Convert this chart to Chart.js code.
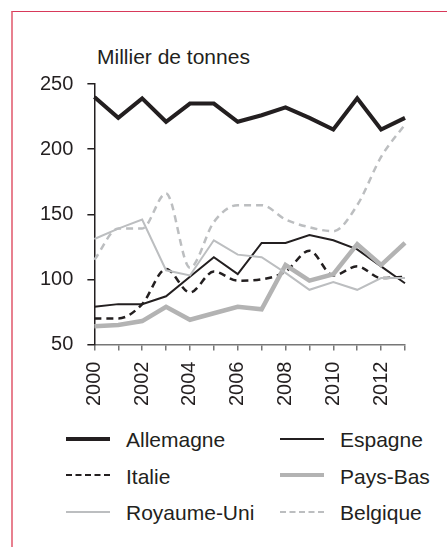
<!DOCTYPE html>
<html>
<head>
<meta charset="utf-8">
<script src="https://cdn.jsdelivr.net/npm/chart.js@4.4.1/dist/chart.umd.min.js"></script>
<style>
  html, body { margin: 0; padding: 0; background: #fff; }
  body { width: 447px; height: 547px; position: relative; overflow: hidden;
         font-family: "Liberation Sans", Arial, Helvetica, sans-serif; color: #231f20; }
  .frame { position: absolute; left: 11px; top: 11px; width: 460px; height: 560px;
           border-top: 1.5px solid #d8395a; border-left: 2px solid #e8808f; }
  .unit { position: absolute; left: 97px; top: 45px; font-size: 21px; }
  #wrap { position: absolute; left: 0; top: 0; width: 447px; height: 420px; }
  .legend { position: absolute; left: 0; top: 0; font-size: 21px; }
  .item { position: absolute; height: 26px; line-height: 26px; }
  .sample { position: absolute; top: 12px; width: 44px; height: 0; }
  .item span { position: absolute; white-space: nowrap; }
</style>
</head>
<body>
<div class="frame"></div>
<div class="unit">Millier de tonnes</div>
<div id="wrap"><canvas id="chart"></canvas></div>
<div class="legend" id="legend"></div>
<script>
// data
const years = ['2000','2001','2002','2003','2004','2005','2006','2007','2008','2009','2010','2011','2012','2013'];
const yearTicks = ['2000','','2002','','2004','','2006','','2008','','2010','','2012',''];
const yTicks = [50, 100, 150, 200, 250];

const allemagne  = [240, 224, 239, 221, 235, 235, 221, 226, 232, 224, 215, 239, 215, 224];
const espagne    = [79, 81, 81, 87, 102, 117, 104, 128, 128, 134, 130, 123, 110, 97];
const italie     = [70, 70, 81, 108, 90, 106, 99, 100, 106, 122, 103, 110, 101, 102];
const paysBas    = [64, 65, 68, 79, 69, 74, 79, 77, 111, 99, 104, 127, 111, 128];
const royaumeUni = [131, 139, 146, 107, 103, 130, 119, 117, 105, 92, 98, 92, 101, 101];
const belgique   = [115, 139, 139, 166, 109, 144, 157, 157, 146, 140, 137, 157, 194, 219];

const BLACK = '#231f20';
const GREY = '#b3b3b3';
const LIGHT = '#bcbec0';

const series = [
  { label: 'Allemagne',   data: allemagne,  color: BLACK, width: 4,   dash: [] },
  { label: 'Espagne',     data: espagne,    color: BLACK, width: 2,   dash: [] },
  { label: 'Italie',      data: italie,     color: BLACK, width: 2.5, dash: [7, 5], smooth: true },
  { label: 'Pays-Bas',    data: paysBas,    color: GREY,  width: 4.5, dash: [] },
  { label: 'Royaume-Uni', data: royaumeUni, color: LIGHT, width: 2,   dash: [] },
  { label: 'Belgique',    data: belgique,   color: LIGHT, width: 2.5, dash: [7, 5], smooth: true }
];

const font = { family: '"Liberation Sans", Arial, sans-serif', size: 20 };

new Chart(document.getElementById('chart'), {
  type: 'line',
  data: {
    labels: years,
    datasets: series.slice().reverse().map(s => ({
      label: s.label,
      data: s.data,
      borderColor: s.color,
      borderWidth: s.width,
      borderDash: s.dash,
      pointRadius: 0,
      fill: false,
      cubicInterpolationMode: s.smooth ? 'monotone' : 'default',
      tension: 0
    }))
  },
  options: {
    responsive: true,
    maintainAspectRatio: false,
    animation: false,
    layout: { padding: { left: 26, right: 42, top: 84, bottom: 3 } },
    plugins: { legend: { display: false }, tooltip: { enabled: false } },
    scales: {
      x: {
        offset: false,
        grid: { drawOnChartArea: false, drawTicks: true, tickLength: 6, color: '#777', lineWidth: 1.5 },
        border: { display: true, color: '#777', width: 1.5 },
        ticks: {
          autoSkip: false, minRotation: 90, maxRotation: 90, padding: 11,
          color: BLACK, font: font,
          callback: (v, i) => yearTicks[i]
        }
      },
      y: {
        min: 50, max: 250,
        afterBuildTicks: axis => { axis.ticks = yTicks.map(v => ({ value: v })); },
        grid: { drawOnChartArea: false, drawTicks: true, tickLength: 7, color: '#231f20', lineWidth: 1.5 },
        border: { display: true, color: '#231f20', width: 1.5 },
        ticks: { padding: 14, color: BLACK, font: font }
      }
    }
  }
});

// legend, two columns, three rows
const legend = document.getElementById('legend');
series.forEach((s, i) => {
  const col = i % 2, row = Math.floor(i / 2);
  const item = document.createElement('div');
  item.className = 'item';
  item.style.left = (col === 0 ? 66 : 280) + 'px';
  item.style.top = (427 + row * 36.5) + 'px';
  const line = document.createElement('div');
  line.className = 'sample';
  line.style.borderTop = s.width + 'px ' + (s.dash.length ? 'dashed ' : 'solid ') + s.color;
  line.style.marginTop = (-s.width / 2) + 'px';
  item.appendChild(line);
  const txt = document.createElement('span');
  txt.style.left = '60px';
  txt.textContent = s.label;
  item.appendChild(txt);
  legend.appendChild(item);
});
</script>
</body>
</html>
